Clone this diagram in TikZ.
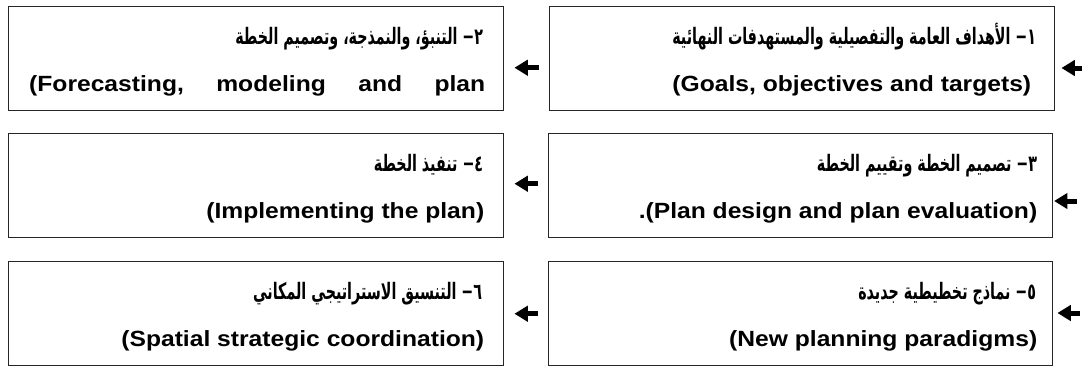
\documentclass[tikz,border=0pt]{standalone}
\usepackage{fontspec}
\setmainfont{Liberation Sans}[FakeStretch=1.12]
\newfontfamily\arabicfont[Script=Arabic, FakeStretch=0.63]{DejaVu Sans}
\usetikzlibrary{arrows.meta}
\TeXXeTstate=1

\begin{document}
\begin{tikzpicture}[x=0.75pt, y=-0.75pt,
  box/.style={draw=black!85, line width=1.1pt, inner sep=0pt, minimum height=78pt, anchor=north west},
  lbox/.style={box, minimum width=371.25pt},
  rbox/.style={box, minimum width=378pt},
  artext/.style={anchor=base east, inner sep=0pt, font=\arabicfont\bfseries\fontsize{17}{20}\selectfont},
  entext/.style={anchor=base east, inner sep=0pt, font=\bfseries\fontsize{16.5}{20}\selectfont},
  arr/.style={line width=3.75pt, -{Triangle[length=10pt, width=11.5pt]}}]

  \useasboundingbox (0,0) rectangle (1083,365);

  % ---------------- the six boxes ----------------
  \node[rbox, minimum width=378.75pt] (b1) at (549,6) {};
  \node[lbox] (b2) at (8,6) {};
  \node[rbox] (b3) at (548,133) {};
  \node[lbox] (b4) at (8,133) {};
  \node[rbox] (b5) at (548,261) {};
  \node[lbox] (b6) at (8,261) {};

  % ---------------- texts: arabic over english ----------------
  \node[artext] (a1) at ([shift={(-19,38)}]b1.north east)
    {\beginR ١− الأهداف العامة والتفصيلية والمستهدفات النهائية\endR};
  \node[entext] (e1) at ([shift={(-24,85)}]b1.north east) {(Goals, objectives and targets)};

  \node[artext] (a2) at ([shift={(-21,38)}]b2.north east)
    {\beginR ٢− التنبؤ، والنمذجة، وتصميم الخطة\endR};
  \node[entext] (e2) at ([shift={(-19,85)}]b2.north east)
    {\hbox to 342pt{(Forecasting,\hfill modeling\hfill and\hfill plan}};

  \node[artext] (a3) at ([shift={(-16,38)}]b3.north east)
    {\beginR ٣− تصميم الخطة وتقييم الخطة\endR};
  \node[entext] (e3) at ([shift={(-16,85)}]b3.north east) {.(Plan design and plan evaluation)};

  \node[artext] (a4) at ([shift={(-21,38)}]b4.north east)
    {\beginR ٤− تنفيذ الخطة\endR};
  \node[entext] (e4) at ([shift={(-20,85)}]b4.north east) {(Implementing the plan)};

  \node[artext] (a5) at ([shift={(-17,38)}]b5.north east)
    {\beginR ٥− نماذج تخطيطية جديدة\endR};
  \node[entext] (e5) at ([shift={(-16,85)}]b5.north east) {(New planning paradigms)};

  \node[artext] (a6) at ([shift={(-22,38)}]b6.north east)
    {\beginR ٦− التنسيق الاستراتيجي المكاني\endR};
  \node[entext] (e6) at ([shift={(-20,85)}]b6.north east) {(Spatial strategic coordination)};

  % ---------------- arrows, all pointing left ----------------
  \coordinate (in1) at (1082,68);
  \coordinate (in3) at (1077,201);
  \coordinate (in5) at (1080,313);
  \draw[arr, shorten >=4.5pt] (in1) -- (in1 -| b1.east);
  \draw[arr, shorten >=0.5pt] (in3) -- (in3 -| b3.east);
  \draw[arr, shorten >=3pt] (in5) -- (in5 -| b5.east);

  \draw[arr, shorten <=7.5pt, shorten >=7.5pt] ([yshift=-6.75pt]b1.west) -- ([yshift=-6.75pt]b2.east);
  \draw[arr, shorten <=7.5pt, shorten >=7.5pt] ([yshift=1.5pt]b3.west) -- ([yshift=1.5pt]b4.east);
  \draw[arr, shorten <=7.5pt, shorten >=7.5pt] (b5.west) -- (b6.east);

\end{tikzpicture}
\end{document}
